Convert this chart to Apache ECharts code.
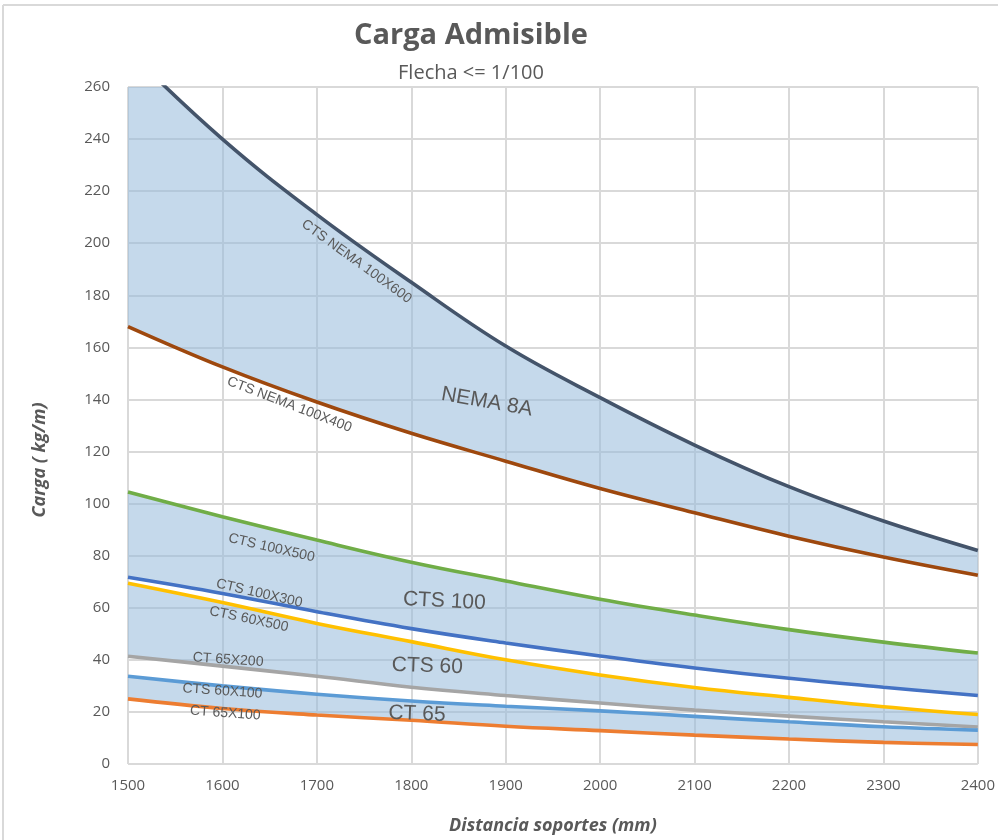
<!DOCTYPE html>
<html>
<head>
<meta charset="utf-8">
<script src="https://cdn.jsdelivr.net/npm/echarts@6/dist/echarts.min.js"></script>
<style>
html,body{margin:0;padding:0;background:#fff;}
#chart{width:998px;height:840px;}
</style>
</head>
<body>
<div id="chart"></div>
<script>
// Distances (mm) – categories
const distances = ['1500','1600','1700','1800','1900','2000','2100','2200','2300','2400'];
// Series values (kg/m)
const nema100x600 = [274,240,211,185,160.5,140.7,122.5,106.5,93.3,82];
const nema100x400 = [168,152.5,139,127,116.3,105.8,96.5,87.5,79.5,72.5];
const cts100x500 = [104.5,95,86,77.5,70.3,63.3,57.2,51.6,46.8,42.6];
const cts100x300 = [71.7,65.5,58.5,52,46.5,41.5,36.9,32.9,29.5,26.3];
const cts60x500 = [69.4,62,54,47,40,34.2,29.4,25.6,22,19];
const ct65x200 = [41.4,37.6,33.7,29.5,26.3,23.4,20.7,18.4,16.2,14.2];
const cts60x100 = [33.7,30,26.8,24.2,22.2,20.4,18.3,16.2,14.3,13];
const ct65x100 = [25,21.3,18.8,16.8,14.5,12.8,11.1,9.6,8.3,7.5];
// Axis ticks
const yTicks = {min:0, max:260, step:20};

const diff = (a,b) => a.map((v,i)=>+(v-b[i]).toFixed(2));

const FILL = 'rgba(150,186,219,0.55)';
const TXT = '#595959';
const SM = 0.4;
const FONT = 'Liberation Sans, Arial, sans-serif';
const UIFONT = 'Open Sans, sans-serif';

function band(id, upper, lower){
  return [
    {type:'line', stack:id, data:lower.slice(), smooth:SM, symbol:'none', lineStyle:{opacity:0, width:0}, silent:true, z:1},
    {type:'line', stack:id, data:diff(upper,lower), smooth:SM, symbol:'none', lineStyle:{opacity:0, width:0}, areaStyle:{color:FILL, opacity:1}, silent:true, z:1}
  ];
}
function line(name, arr, color){
  return {name:name, type:'line', data:arr, smooth:SM, symbol:'none', lineStyle:{color:color, width:3.6}, z:3};
}
// Labels positioned in data coordinates (distance, load)
const labels = [
  {t:'CTS NEMA 100X600', c:[1742,193], r:-36, s:14},
  {t:'CTS NEMA 100X400', c:[1671,138], r:-21, s:14},
  {t:'NEMA 8A', c:[1880,139], r:-10, s:21},
  {t:'CTS 100X500', c:[1652,83], r:-13, s:14},
  {t:'CTS 100X300', c:[1639,65.5], r:-13, s:14},
  {t:'CTS 60X500', c:[1628,55.6], r:-12, s:14},
  {t:'CT 65X200', c:[1606,40], r:-4, s:14},
  {t:'CTS 60X100', c:[1600,28], r:-4, s:14},
  {t:'CT 65X100', c:[1603,19.5], r:-4, s:14},
  {t:'CTS 100', c:[1835,62.5], r:-3, s:21},
  {t:'CTS 60', c:[1817,37.6], r:-2, s:21},
  {t:'CT 65', c:[1806,19.2], r:-2, s:21}
];
const labelSeries = {
  type:'scatter', xAxisIndex:1, data:[], silent:true, z:5,
  markPoint:{
    symbol:'circle', symbolSize:0, silent:true,
    data: labels.map(l=>({coord:l.c, label:{show:true, formatter:l.t, rotate:l.r, fontSize:l.s, color:TXT, fontFamily:FONT, position:'inside'}}))
  }
};

const chart = echarts.init(document.getElementById('chart'));
chart.setOption({
  backgroundColor:'#fff',
  animation:false,
  title:[
    {text:'Carga Admisible', left:466, top:16, textAlign:'center', textStyle:{fontSize:29, fontWeight:'bold', color:TXT, fontFamily:UIFONT}},
    {text:'Flecha <= 1/100', left:466, top:58, textAlign:'center', textStyle:{fontSize:20, fontWeight:'normal', color:TXT, fontFamily:UIFONT}}
  ],
  grid:{left:128, right:18, top:87, bottom:75, containLabel:false},
  xAxis:[{
    type:'category', data:distances, boundaryGap:false,
    name:'Distancia soportes (mm)', nameLocation:'middle', nameGap:53,
    nameTextStyle:{fontSize:18, fontStyle:'italic', fontWeight:'bold', color:TXT, fontFamily:UIFONT},
    axisLine:{show:false}, axisTick:{show:false},
    axisLabel:{fontSize:15, color:TXT, margin:14, interval:0, fontFamily:UIFONT},
    splitLine:{show:true, interval:0, lineStyle:{color:'#D9D9D9', width:2}}
  },{
    type:'value', min:1500, max:2400, show:false
  }],
  yAxis:{
    type:'value', min:yTicks.min, max:yTicks.max, interval:yTicks.step,
    axisLine:{show:false}, axisTick:{show:false},
    axisLabel:{fontSize:15, color:TXT, margin:18, fontFamily:UIFONT},
    splitLine:{show:true, lineStyle:{color:'#D9D9D9', width:2}}
  },
  graphic:[
    {type:'line', shape:{x1:3, y1:5, x2:998, y2:5}, style:{stroke:'#D9D9D9', lineWidth:2}, silent:true},
    {type:'line', shape:{x1:3, y1:5, x2:3, y2:840}, style:{stroke:'#D9D9D9', lineWidth:2}, silent:true},
    {type:'text', x:40, y:460, rotation:Math.PI/2, silent:true,
     style:{text:'Carga ( kg/m)', fontSize:18, fontStyle:'italic', fontWeight:'bold', fill:TXT, fontFamily:UIFONT, align:'center', verticalAlign:'middle'}}
  ],
  series:[
    ...band('b1', nema100x600, nema100x400),
    ...band('b2', cts100x500, cts100x300),
    ...band('b3', cts60x500, ct65x200),
    ...band('b4', cts60x100, ct65x100),
    line('CTS NEMA 100X600', nema100x600, '#44546A'),
    line('CTS NEMA 100X400', nema100x400, '#9E480E'),
    line('CTS 100X500', cts100x500, '#70AD47'),
    line('CTS 100X300', cts100x300, '#4472C4'),
    line('CTS 60X500', cts60x500, '#FFC000'),
    line('CT 65X200', ct65x200, '#A5A5A5'),
    line('CTS 60X100', cts60x100, '#5B9BD5'),
    line('CT 65X100', ct65x100, '#ED7D31'),
    labelSeries
  ]
});
</script>
</body>
</html>
